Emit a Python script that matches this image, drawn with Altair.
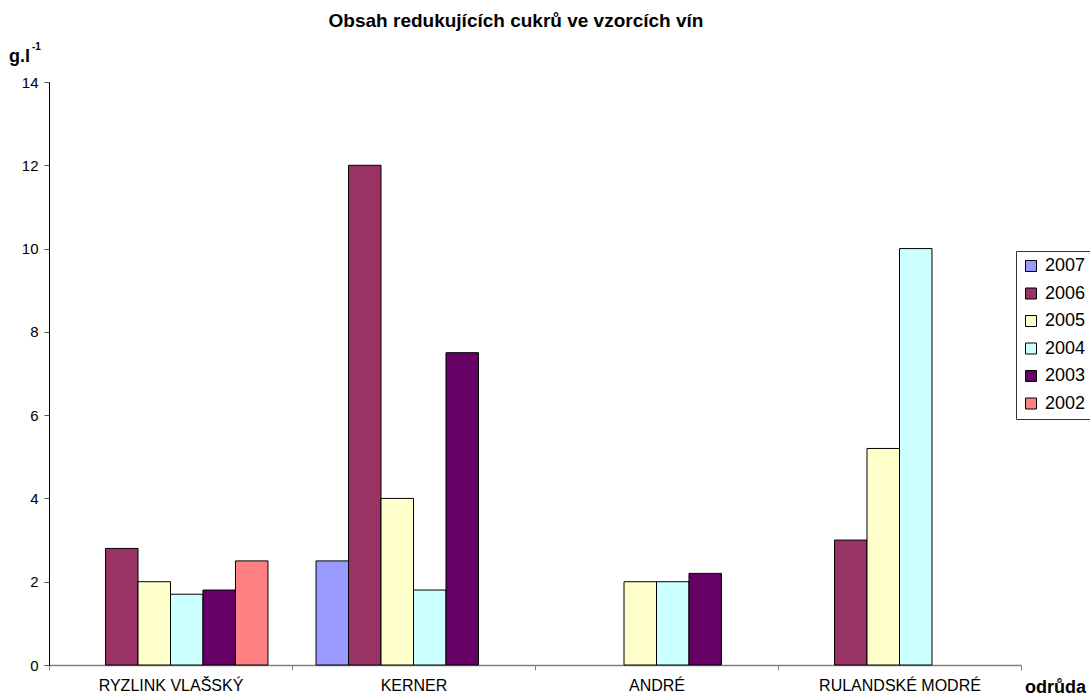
import altair as alt
import pandas as pd

# Wine varieties and vintages
categories = ["RYZLINK VLAŠSKÝ", "KERNER", "ANDRÉ", "RULANDSKÉ MODRÉ"]
years = ["2007", "2006", "2005", "2004", "2003", "2002"]

# Reducing sugar content (g/l) per vintage, one value per variety (None = not sampled)
v2007 = [None, 2.5, None, None]
v2006 = [2.8, 12.0, None, 3.0]
v2005 = [2.0, 4.0, 2.0, 5.2]
v2004 = [1.7, 1.8, 2.0, 10.0]
v2003 = [1.8, 7.5, 2.2, None]
v2002 = [2.5, None, None, None]

colors = ["#9999FF", "#993366", "#FFFFCC", "#CCFFFF", "#660066", "#FF8080"]

title_text = "Obsah redukujících cukrů ve vzorcích vín"
y_unit = "g.l"
y_unit_sup = "-1"
x_title = "odrůda"

series = dict(zip(years, [v2007, v2006, v2005, v2004, v2003, v2002]))
rows = []
for yr, vals in series.items():
    for cat, v in zip(categories, vals):
        if v is not None:
            rows.append({"odruda": cat, "rok": yr, "cukr": v})
df = pd.DataFrame(rows)

W, H = 972, 583
FONT = "Liberation Sans"

bars = alt.Chart(df).mark_bar(stroke="black", strokeWidth=1).encode(
    x=alt.X(
        "odruda:N",
        sort=categories,
        scale=alt.Scale(domain=categories, paddingInner=0, paddingOuter=0),
        axis=alt.Axis(
            title=None,
            labelAngle=0,
            labelFontSize=16,
            labelColor="black",
            labelFont=FONT,
            tickBand="extent",
            tickSize=5,
            tickColor="#808080",
            domainColor="#808080",
            domainWidth=1.5,
            labelPadding=7,
        ),
    ),
    # six vintage slots per variety; the outer padding leaves the gap between groups
    xOffset=alt.XOffset(
        "rok:N",
        sort=years,
        scale=alt.Scale(domain=years, paddingInner=0, paddingOuter=0.74),
    ),
    y=alt.Y(
        "cukr:Q",
        scale=alt.Scale(domain=[0, 14], nice=False),
        axis=alt.Axis(
            title=None,
            values=list(range(0, 15, 2)),
            grid=False,
            tickSize=5,
            tickColor="#555555",
            domainColor="black",
            labelFontSize=15,
            labelColor="black",
            labelFont=FONT,
            labelPadding=6,
        ),
    ),
    color=alt.Color(
        "rok:N",
        sort=years,
        scale=alt.Scale(domain=years, range=colors),
        legend=alt.Legend(
            title=None,
            orient="none",
            legendX=967,
            legendY=169,
            symbolType="square",
            symbolSize=121,
            symbolStrokeColor="black",
            symbolStrokeWidth=1,
            symbolOpacity=1,
            labelFontSize=18,
            labelFont=FONT,
            labelColor="black",
            labelOffset=5,
            rowPadding=9.5,
            padding=6,
            strokeColor="#333333",
            fillColor="white",
        ),
    ),
)

one = pd.DataFrame({"t": [0]})

title = alt.Chart(one).mark_text(
    text=title_text, font=FONT, fontSize=19, fontWeight="bold",
    align="center", baseline="alphabetic", color="black",
).encode(x=alt.value(516 - 49), y=alt.value(27 - 82))

unit = alt.Chart(one).mark_text(
    text=y_unit, font=FONT, fontSize=18, fontWeight="bold",
    align="left", baseline="alphabetic", color="black",
).encode(x=alt.value(9 - 49), y=alt.value(62 - 82))

unit_sup = alt.Chart(one).mark_text(
    text=y_unit_sup, font=FONT, fontSize=10, fontWeight="bold",
    align="left", baseline="alphabetic", color="black",
).encode(x=alt.value(32 - 49), y=alt.value(50 - 82))

xlab = alt.Chart(one).mark_text(
    text=x_title, font=FONT, fontSize=18, fontWeight="bold",
    align="left", baseline="alphabetic", color="black",
).encode(x=alt.value(1025 - 49), y=alt.value(693 - 82))

chart = alt.layer(bars, title, unit, unit_sup, xlab).properties(
    width=W,
    height=H,
    autosize=alt.AutoSizeParams(type="none"),
    padding={"left": 49, "top": 82, "right": 1090 - 49 - W, "bottom": 697 - 82 - H},
    background="white",
).configure_view(stroke=None)

chart.save("out.html", embed_options={"renderer": "svg", "actions": False})
